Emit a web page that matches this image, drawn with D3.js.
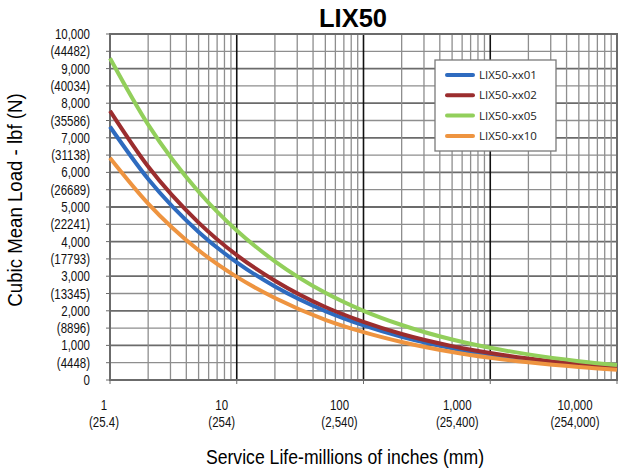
<!DOCTYPE html>
<style>
body { margin: 0; background: #fff; }
svg { font-family: "Liberation Sans", Arial, sans-serif; }
</style>
<svg id="thevis" width="637" height="468"></svg>
<script src="https://cdn.jsdelivr.net/npm/d3@7"></script>
<script>
var life = [1, 2, 5, 10, 20, 50, 100, 200, 500, 1000, 2000, 5000, 10000];
var seriesNames = ["LIX50-xx01", "LIX50-xx02", "LIX50-xx05", "LIX50-xx10"];
var xx01 = [7320, 5810, 4280, 3400, 2700, 1990, 1580, 1250, 920, 730, 580, 430, 340];
var xx02 = [7780, 6170, 4550, 3610, 2870, 2110, 1680, 1330, 980, 780, 620, 455, 362];
var xx05 = [9300, 7380, 5440, 4320, 3430, 2520, 2000, 1590, 1170, 930, 740, 545, 432];
var xx10 = [6420, 5100, 3750, 2980, 2370, 1740, 1385, 1100, 810, 642, 510, 375, 298];
var seriesColors = ["#2e6bbf", "#9b2d2e", "#92cf5b", "#ee9440"];

var yTicks = [0, 1000, 2000, 3000, 4000, 5000, 6000, 7000, 8000, 9000, 10000];
var yTickN = ["", "(4448)", "(8896)", "(13345)", "(17793)", "(22241)", "(26689)", "(31138)", "(35586)", "(40034)", "(44482)"];
var xTicks = [1, 10, 100, 1000, 10000];
var xTickLabels = ["1", "10", "100", "1,000", "10,000"];
var xTickMm = ["(25.4)", "(254)", "(2,540)", "(25,400)", "(254,000)"];

var svg = d3.select("svg");
var margin = {top: 34, right: 20, bottom: 88, left: 110};
var width = 637 - margin.left - margin.right;
var height = 468 - margin.top - margin.bottom;
var g = svg.append("g").attr("transform", "translate(" + margin.left + "," + margin.top + ")");

var x = d3.scaleLog().domain([1, 10000]).range([0, width]);
var y = d3.scaleLinear().domain([0, 10000]).range([height, 0]);
// the x labels in the original sit a bit inside the decade lines
var xLab = d3.scaleLog().domain([1, 10000]).range([-6, 465]);

// text in the original is a narrow face; squeeze Liberation Sans instead
function squeeze(px, py, sx) {
  return "translate(" + px + "," + py + ") scale(" + sx + ",1)";
}

// horizontal grid every 500
g.append("g").selectAll("line")
    .data(d3.range(500, 10000, 500))
  .enter().append("line")
    .attr("x1", 0).attr("x2", width)
    .attr("y1", function(d) { return y(d); })
    .attr("y2", function(d) { return y(d); })
    .attr("stroke", function(d) { return d % 1000 == 0 ? "#6b6b6b" : "#8e8e8e"; })
    .attr("stroke-width", function(d) { return d % 1000 == 0 ? 1.8 : 1.3; });

// vertical grid: minor 2..9 per decade, decades black
var minor = [];
[1, 10, 100, 1000].forEach(function(dec) {
  for (var k = 2; k <= 9; k++) minor.push(dec * k);
});
g.append("g").selectAll("line")
    .data(minor)
  .enter().append("line")
    .attr("x1", function(d) { return x(d); })
    .attr("x2", function(d) { return x(d); })
    .attr("y1", 0).attr("y2", height)
    .attr("stroke", "#8e8e8e")
    .attr("stroke-width", 1.3);
g.append("g").selectAll("line")
    .data([10, 100, 1000])
  .enter().append("line")
    .attr("x1", function(d) { return x(d); })
    .attr("x2", function(d) { return x(d); })
    .attr("y1", 0).attr("y2", height)
    .attr("stroke", "#111")
    .attr("stroke-width", 1.6);

// plot frame
g.append("rect")
    .attr("width", width).attr("height", height)
    .attr("fill", "none")
    .attr("stroke", "#6b6b6b")
    .attr("stroke-width", 2);

// small tick marks
g.append("g").selectAll("line")
    .data(d3.range(0, 10001, 500))
  .enter().append("line")
    .attr("x1", -4).attr("x2", 0)
    .attr("y1", function(d) { return y(d); })
    .attr("y2", function(d) { return y(d); })
    .attr("stroke", "#6b6b6b");
g.append("g").selectAll("line")
    .data(xTicks)
  .enter().append("line")
    .attr("x1", function(d) { return x(d); })
    .attr("x2", function(d) { return x(d); })
    .attr("y1", height).attr("y2", height + 4)
    .attr("stroke", "#6b6b6b");

// curves
var allSeries = [xx01, xx02, xx05, xx10];
var line = d3.line()
    .x(function(d, i) { return x(life[i]); })
    .y(function(d) { return y(d); })
    .curve(d3.curveMonotoneX);
g.append("g").selectAll("path")
    .data(allSeries)
  .enter().append("path")
    .attr("d", line)
    .attr("fill", "none")
    .attr("stroke", function(d, i) { return seriesColors[i]; })
    .attr("stroke-width", 4);

// y tick labels, two lines each
var yl = g.append("g").attr("font-size", 14).attr("text-anchor", "end").attr("fill", "#111");
yl.selectAll("text.lbf")
    .data(yTicks)
  .enter().append("text")
    .attr("class", "lbf")
    .attr("transform", function(d) { return squeeze(-20, y(d), 0.82); })
    .attr("dy", "0.35em")
    .text(function(d) { return d3.format(",")(d); });
yl.selectAll("text.n")
    .data(yTicks)
  .enter().append("text")
    .attr("class", "n")
    .attr("transform", function(d) { return squeeze(-20, y(d) + 17.5, 0.82); })
    .attr("dy", "0.35em")
    .text(function(d, i) { return yTickN[i]; });

// x tick labels
var xl = g.append("g").attr("font-size", 14).attr("text-anchor", "middle").attr("fill", "#111");
xl.selectAll("text.in")
    .data(xTicks)
  .enter().append("text")
    .attr("transform", function(d) { return squeeze(xLab(d), height + 25, 0.82); })
    .attr("dy", "0.35em")
    .text(function(d, i) { return xTickLabels[i]; });
xl.selectAll("text.mm")
    .data(xTicks)
  .enter().append("text")
    .attr("transform", function(d) { return squeeze(xLab(d), height + 42, 0.82); })
    .attr("dy", "0.35em")
    .text(function(d, i) { return xTickMm[i]; });

// titles
svg.append("text")
    .attr("x", 353).attr("y", 27)
    .attr("text-anchor", "middle")
    .attr("font-size", 25.5).attr("font-weight", "bold")
    .text("LIX50");
svg.append("text")
    .attr("transform", squeeze(345, 464, 0.86))
    .attr("text-anchor", "middle")
    .attr("font-size", 20.5)
    .text("Service Life-millions of inches (mm)");
svg.append("text")
    .attr("transform", "translate(22,200) rotate(-90) scale(0.91,1)")
    .attr("text-anchor", "middle")
    .attr("font-size", 20.5)
    .text("Cubic Mean Load - lbf (N)");

// legend
var legend = svg.append("g").attr("transform", "translate(435,60)");
legend.append("rect")
    .attr("width", 121).attr("height", 91)
    .attr("fill", "#fff")
    .attr("stroke", "#7a7a7a")
    .attr("stroke-width", 1.3);
var item = legend.selectAll("g")
    .data(seriesNames)
  .enter().append("g")
    .attr("transform", function(d, i) { return "translate(0," + (15 + i * 20.3) + ")"; });
item.append("line")
    .attr("x1", 12).attr("x2", 38)
    .attr("stroke", function(d, i) { return seriesColors[i]; })
    .attr("stroke-width", 4)
    .attr("stroke-linecap", "round");
item.append("text")
    .attr("x", 44)
    .attr("dy", "0.35em")
    .attr("font-family", "'Open Sans', 'DejaVu Sans', sans-serif")
    .attr("font-size", 11.5)
    .attr("fill", "#222")
    .text(function(d) { return d; });
</script>
